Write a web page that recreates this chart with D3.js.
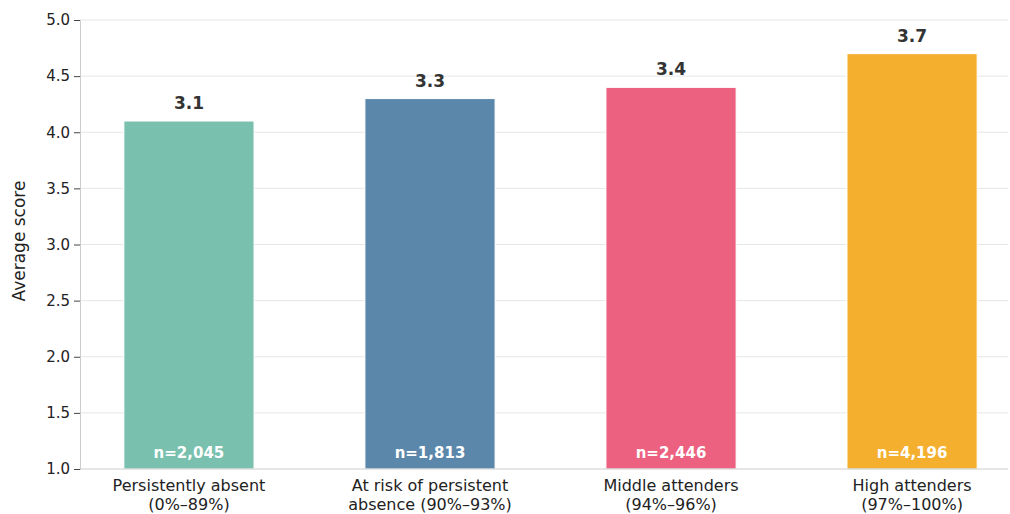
<!DOCTYPE html>
<html>
<head>
<meta charset="utf-8">
<script src="https://cdn.jsdelivr.net/npm/d3@7"></script>
<style>
  body { margin: 0; background: white; }
  text { font-family: "DejaVu Sans", sans-serif; }
</style>
</head>
<body>
<svg id="chart"></svg>
<script>
const categories = [
    ["Persistently absent", "(0%–89%)"],
    ["At risk of persistent", "absence (90%–93%)"],
    ["Middle attenders", "(94%–96%)"],
    ["High attenders", "(97%–100%)"]
];
const barValues = [4.1, 4.3, 4.4, 4.7];
const valueLabels = ["3.1", "3.3", "3.4", "3.7"];
const sampleSizes = ["n=2,045", "n=1,813", "n=2,446", "n=4,196"];
const yTicks = [1.0, 1.5, 2.0, 2.5, 3.0, 3.5, 4.0, 4.5, 5.0];
const colors = ["#79C0AE", "#5B87AB", "#EC617F", "#F5AF2F"];

const dimensions = {
    width: 1010,
    height: 514,
    left: 80,
    right: 1008,
    top: 20,
    bottom: 469,
    barWidth: 0.54
};

const svg = d3.select("#chart")
    .attr("width", dimensions.width)
    .attr("height", dimensions.height);

const xScale = d3.scaleLinear()
    .domain([-0.452, 3.398])
    .range([dimensions.left, dimensions.right]);

const yScale = d3.scaleLinear()
    .domain([1, 5])
    .range([dimensions.bottom, dimensions.top]);

// grid lines
svg.append("g")
    .selectAll("line")
    .data(yTicks.slice(1))
    .enter().append("line")
    .attr("x1", dimensions.left)
    .attr("x2", dimensions.right)
    .attr("y1", d => yScale(d))
    .attr("y2", d => yScale(d))
    .attr("stroke", "#e6e6e6")
    .attr("stroke-width", 1);

// bars
const bw = xScale(dimensions.barWidth) - xScale(0);
svg.append("g")
    .selectAll("rect")
    .data(barValues)
    .enter().append("rect")
    .attr("x", (d, i) => xScale(i) - bw / 2)
    .attr("y", d => yScale(d))
    .attr("width", bw)
    .attr("height", d => yScale(1) - yScale(d))
    .attr("fill", (d, i) => colors[i])
    .attr("stroke", "white")
    .attr("stroke-width", 1);

// value labels above bars
svg.append("g")
    .selectAll("text")
    .data(barValues)
    .enter().append("text")
    .attr("x", (d, i) => xScale(i))
    .attr("y", d => yScale(d) - 12)
    .attr("text-anchor", "middle")
    .style("font-size", "17px")
    .style("font-weight", "bold")
    .attr("fill", "#333333")
    .text((d, i) => valueLabels[i]);

// n labels inside bars
svg.append("g")
    .selectAll("text")
    .data(sampleSizes)
    .enter().append("text")
    .attr("x", (d, i) => xScale(i))
    .attr("y", yScale(1) - 11)
    .attr("text-anchor", "middle")
    .style("font-size", "15px")
    .style("font-weight", "bold")
    .attr("fill", "white")
    .text(d => d);

// y axis
const yAxis = svg.append("g")
    .attr("transform", `translate(${dimensions.left},0)`)
    .call(d3.axisLeft(yScale).tickValues(yTicks).tickFormat(d3.format(".1f")).tickSize(6).tickPadding(4));
yAxis.select(".domain").attr("stroke", "#cccccc");
yAxis.selectAll(".tick line").attr("stroke", "#444444");
yAxis.selectAll(".tick text")
    .style("font-size", "15px")
    .style("font-family", "DejaVu Sans, sans-serif")
    .attr("fill", "#222222");

// bottom spine
svg.append("line")
    .attr("x1", dimensions.left)
    .attr("x2", dimensions.right)
    .attr("y1", dimensions.bottom)
    .attr("y2", dimensions.bottom)
    .attr("stroke", "#cccccc");

// category labels
const catLabels = svg.append("g")
    .selectAll("text")
    .data(categories)
    .enter().append("text")
    .attr("x", (d, i) => xScale(i))
    .attr("y", 491)
    .attr("text-anchor", "middle")
    .style("font-size", "16px")
    .attr("fill", "#222222");

catLabels.selectAll("tspan")
    .data(d => d)
    .enter().append("tspan")
    .attr("x", function () { return d3.select(this.parentNode).attr("x"); })
    .attr("dy", (d, i) => i === 0 ? 0 : 18.5)
    .text(d => d);

// y label
svg.append("text")
    .attr("transform", "translate(25,241) rotate(-90)")
    .attr("text-anchor", "middle")
    .style("font-size", "17px")
    .attr("fill", "#222222")
    .text("Average score");
</script>
</body>
</html>
